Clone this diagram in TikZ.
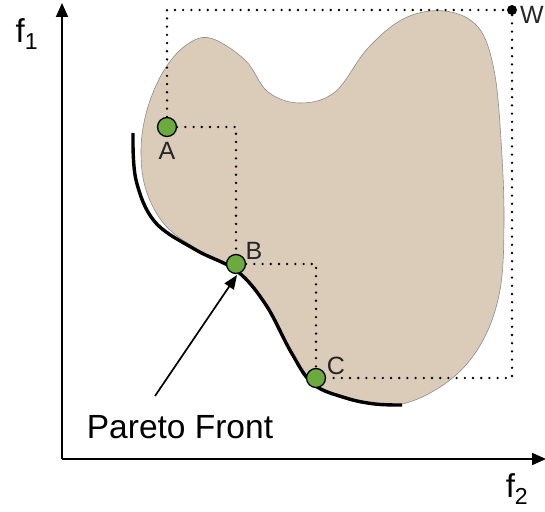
\documentclass[tikz,border=0pt]{standalone}
\usepackage{fontspec}
\setmainfont{Liberation Sans}
\usetikzlibrary{arrows.meta}
\definecolor{blob}{HTML}{DBCCBA}
\definecolor{pgreen}{HTML}{6AAA3E}
\tikzset{
  pt/.style={circle, draw=black, fill=pgreen, line width=1.3pt, minimum size=19pt, inner sep=0pt},
  dotline/.style={line width=2.6pt, dash pattern=on 0pt off 8.2pt, line cap=round},
  axis/.style={line width=1.8pt, -{Triangle[length=14pt,width=12pt]}},
  lbl/.style={font=\fontsize{25}{27}\selectfont\color{black!85}},
}
\begin{document}
\begin{tikzpicture}[x=1pt,y=-1pt]
\useasboundingbox (0,0) rectangle (545,511);
% feasible region
\fill[blob, draw=black!45, line width=0.6pt] plot[smooth cycle, tension=0.6] coordinates {
 (210,38) (245,60) (268,92) (300,103) (335,92) (368,48) (405,18) (445,11) (478,27) (494,70)
 (501,140) (504,220) (500,290) (482,342) (450,380) (402,404) (352,401) (316,384) (290,350)
 (265,302) (236,270) (198,250) (165,225) (146,190) (141,150) (147,110) (163,72) (185,46)};
% Pareto front
\draw[line width=3.4pt] plot[smooth, tension=0.6] coordinates {
 (133,133) (136,180) (155,222) (196,250) (237,271) (266,305) (291,352) (313,384) (346,398) (375,404) (402,405)};
% axes
\coordinate (O) at (62,459);
\coordinate (Y) at (62,3);
\coordinate (X) at (546,459);
\draw[axis] (O) -- (Y);
\draw[axis] (O) -- (X);
\node[font=\fontsize{33}{35}\selectfont, anchor=base] (f1) at (27,42) {f\textsubscript{1}};
\node[font=\fontsize{33}{35}\selectfont, anchor=base] (f2) at (517,497) {f\textsubscript{2}};
% points
\node[pt] (A) at (167,127) {};
\node[pt] (B) at (236,264) {};
\node[pt] (C) at (316,378) {};
\node[circle, fill=black, minimum size=10pt, inner sep=0pt] (W) at (512,10) {};
% dotted lines
\draw[dotline] (A.east) -- (A.east -| B) -- (B.north);
\draw[dotline] (B.east) -- (B.east -| C) -- (C.north);
\draw[dotline] (A.north) -- (A.north |- W) -- (W.west);
\draw[dotline] (W.south) -- (W.south |- C) -- (C.east);
% labels
\node[lbl] (la) at (167,151) {A};
\node[lbl] (lb) at (254,251) {B};
\node[lbl] (lc) at (336,366) {C};
\node[lbl] (lw) at (532,15) {W};
% annotation
\node[font=\fontsize{33.5}{35}\selectfont] (pf) at (180,427) {Pareto Front};
\coordinate (tip) at (237,275);
\draw[line width=1.7pt, -{Triangle[length=14pt,width=11pt]}] (155,396) -- (tip);
\end{tikzpicture}
\end{document}
